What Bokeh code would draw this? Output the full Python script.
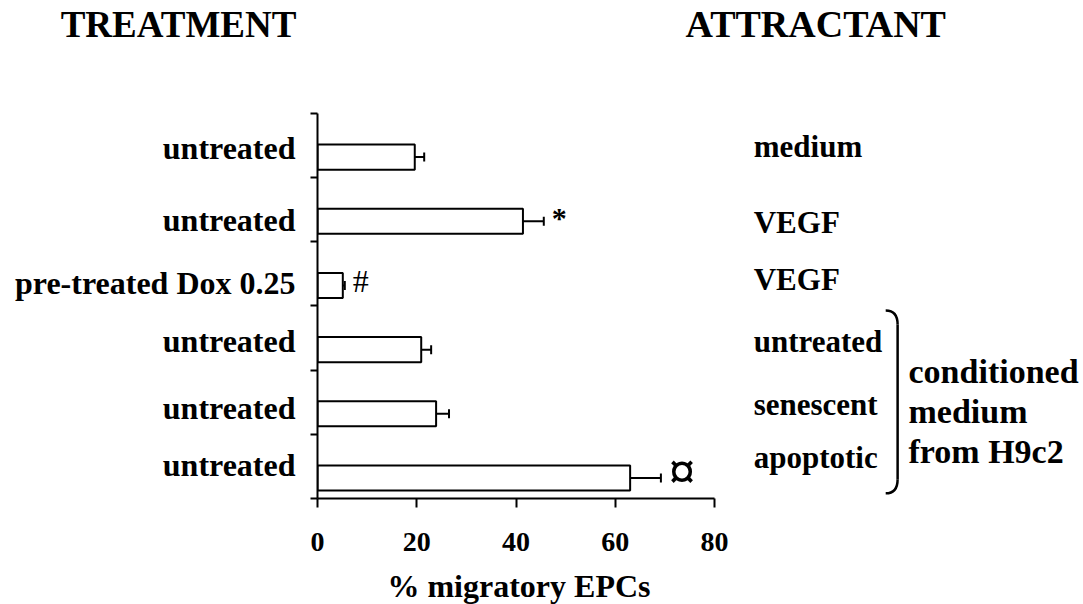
import numpy as np
from bokeh.plotting import figure
from bokeh.layouts import row, column
from bokeh.models import Range1d, FixedTicker, Whisker, TeeHead, ColumnDataSource
from bokeh.core.properties import value
from bokeh.embed import file_html
from bokeh.resources import INLINE

# ---------------- data ----------------
treatments = ["untreated", "untreated", "pre-treated Dox 0.25", "untreated", "untreated", "untreated"]
attractants = ["medium", "VEGF", "VEGF", "untreated", "senescent", "apoptotic"]
migratory = [19.6, 41.4, 5.1, 20.9, 23.9, 63.0]
sem = [1.9, 4.2, 0.4, 2.0, 2.6, 6.2]
marks = ["", "*", "#", "", "", "\u00a4"]
group_text = ["conditioned", "medium", "from H9c2"]
group_rows = [3, 5]          # first and last row covered by the bracket
x_ticks = [0, 20, 40, 60, 80]
x_title = "% migratory EPCs"
left_title = "TREATMENT"
right_title = "ATTRACTANT"

# ---------------- layout ----------------
W, H = 1083, 604
FONT = "Liberation Serif"
PX_X = 397 / 80.0          # pixels per x unit
PX_Y = 64.17               # pixels per row
AXIS_X = 317               # canvas x of value 0
FRAME_BOTTOM = 498         # canvas y of the x axis
TOP_H = 567                # height of the upper row
LW = 300                   # width of the left (treatment) panel
n = len(treatments)
yr = Range1d(n, n - FRAME_BOTTOM / PX_Y)


def xr(c0, c1):
    return Range1d((c0 - AXIS_X) / PX_X, (c1 - AXIS_X) / PX_X)


bar_y = np.arange(n) + 0.68
BAR_H = 0.39
LEFT_LABEL_Y = [0.545, 1.667, 2.649, 3.553, 4.597, 5.485]
RIGHT_LABEL_Y = [0.514, 1.699, 2.587, 3.553, 4.535, 5.361]
LEFT_LABEL_X = -4.43
RIGHT_LABEL_X = 87.9
GROUP_X = 119.1
GROUP_Y = [4.02, 4.64, 5.27]
TITLE_Y = -1.39
MARK_SIZE = ["30px", "30px", "32px", "30px", "30px", "52px"]
MARK_STYLE = ["bold", "bold", "normal", "bold", "bold", "bold"]
MARK_DY = [0, -4, -4, 0, 0, -6]


def bare(fig):
    fig.outline_line_color = None
    fig.background_fill_color = "white"
    fig.border_fill_color = "white"
    return fig


# ---------------- left panel: treatment labels ----------------
pl = bare(figure(width=LW, height=TOP_H, output_backend="svg", toolbar_location=None,
                 x_range=xr(0, LW), y_range=yr,
                 x_axis_location=None, y_axis_location=None,
                 min_border_left=0, min_border_right=0, min_border_top=0,
                 min_border_bottom=TOP_H - FRAME_BOTTOM))
pl.grid.visible = False
pl.text(x=[LEFT_LABEL_X] * n, y=LEFT_LABEL_Y, text=treatments,
        text_font=value(FONT), text_font_size="32px", text_font_style="bold",
        text_align="right", text_baseline="middle", text_color="black")
pl.text(x=[-28.0], y=[TITLE_Y], text=[left_title],
        text_font=value(FONT), text_font_size="37px", text_font_style="bold",
        text_align="center", text_baseline="middle", text_color="black")

# ---------------- main panel: bar chart + attractants ----------------
p = bare(figure(width=W - LW, height=TOP_H, output_backend="svg", toolbar_location=None,
                x_range=xr(AXIS_X, W), y_range=yr,
                min_border_left=AXIS_X - LW, min_border_right=0, min_border_top=0,
                min_border_bottom=TOP_H - FRAME_BOTTOM))
p.xgrid.visible = False
p.ygrid.visible = False

xa = p.xaxis[0]
xa.bounds = (x_ticks[0], x_ticks[-1])
xa.ticker = FixedTicker(ticks=x_ticks, minor_ticks=[])
xa.axis_line_width = 2
xa.axis_line_color = "black"
xa.major_tick_line_width = 2
xa.major_tick_line_color = "black"
xa.major_tick_out = 9
xa.major_tick_in = 0
xa.minor_tick_line_color = None
xa.major_label_text_font = FONT
xa.major_label_text_font_style = "bold"
xa.major_label_text_font_size = "28px"
xa.major_label_text_color = "black"
xa.major_label_standoff = 25

ya = p.yaxis[0]
ya.bounds = (0, n)
ya.ticker = FixedTicker(ticks=[], minor_ticks=list(range(n + 1)))
ya.axis_line_width = 2
ya.axis_line_color = "black"
ya.major_tick_line_color = None
ya.major_tick_out = 0
ya.major_tick_in = 0
ya.minor_tick_line_color = "black"
ya.minor_tick_line_width = 2
ya.minor_tick_out = 7
ya.minor_tick_in = 0
ya.major_label_standoff = 0
ya.major_label_text_font_size = "0px"

src = ColumnDataSource(dict(y=bar_y, v=migratory,
                            hi=[a + b for a, b in zip(migratory, sem)],
                            mark=marks, msize=MARK_SIZE, mstyle=MARK_STYLE, dy=MARK_DY))
p.hbar(y="y", left=0, right="v", height=BAR_H, source=src,
       fill_color="white", line_color="black", line_width=2)
p.add_layout(Whisker(base="y", lower="v", upper="hi", dimension="width", source=src,
                     line_color="black", line_width=2, lower_head=None,
                     upper_head=TeeHead(size=9, line_color="black", line_width=2)))
p.text(x="hi", y="y", text="mark", source=src, x_offset=8, y_offset="dy",
       text_font=value(FONT), text_font_size="msize", text_font_style="mstyle",
       text_align="left", text_baseline="middle", text_color="black")

p.text(x=[RIGHT_LABEL_X] * n, y=RIGHT_LABEL_Y, text=attractants,
       text_font=value(FONT), text_font_size="31px", text_font_style="bold",
       text_align="left", text_baseline="middle", text_color="black")
p.text(x=[GROUP_X] * len(group_text), y=GROUP_Y, text=group_text,
       text_font=value(FONT), text_font_size="34px", text_font_style="bold",
       text_align="left", text_baseline="middle", text_color="black")
p.text(x=[100.4], y=[TITLE_Y], text=[right_title],
       text_font=value(FONT), text_font_size="38px", text_font_style="bold",
       text_align="center", text_baseline="middle", text_color="black")

bx0, bx1 = 114.5, 116.9
top = group_rows[0] + 0.07
bot = group_rows[1] + 1 - 0.08
p.quadratic(x0=[bx0, bx1], y0=[top, bot - 0.22], x1=[bx1, bx0], y1=[top + 0.22, bot],
            cx=[bx1, bx1], cy=[top, bot], line_color="black", line_width=2.5)
p.segment(x0=[bx1], y0=[top + 0.22], x1=[bx1], y1=[bot - 0.22],
          line_color="black", line_width=2.5)

# ---------------- bottom strip: x axis title ----------------
BH = H - TOP_H
pb = bare(figure(width=W, height=BH, output_backend="svg", toolbar_location=None,
                 x_range=xr(0, W), y_range=Range1d(BH, 0),
                 x_axis_location=None, y_axis_location=None,
                 min_border_left=0, min_border_right=0, min_border_top=0,
                 min_border_bottom=0))
pb.grid.visible = False
pb.text(x=[(x_ticks[0] + x_ticks[-1]) / 2 + 0.6], y=[18], text=[x_title],
        text_font=value(FONT), text_font_size="32px", text_font_style="bold",
        text_align="center", text_baseline="middle", text_color="black")

layout = column(row(pl, p), pb)
open("out.html", "w").write(file_html(layout, INLINE))
